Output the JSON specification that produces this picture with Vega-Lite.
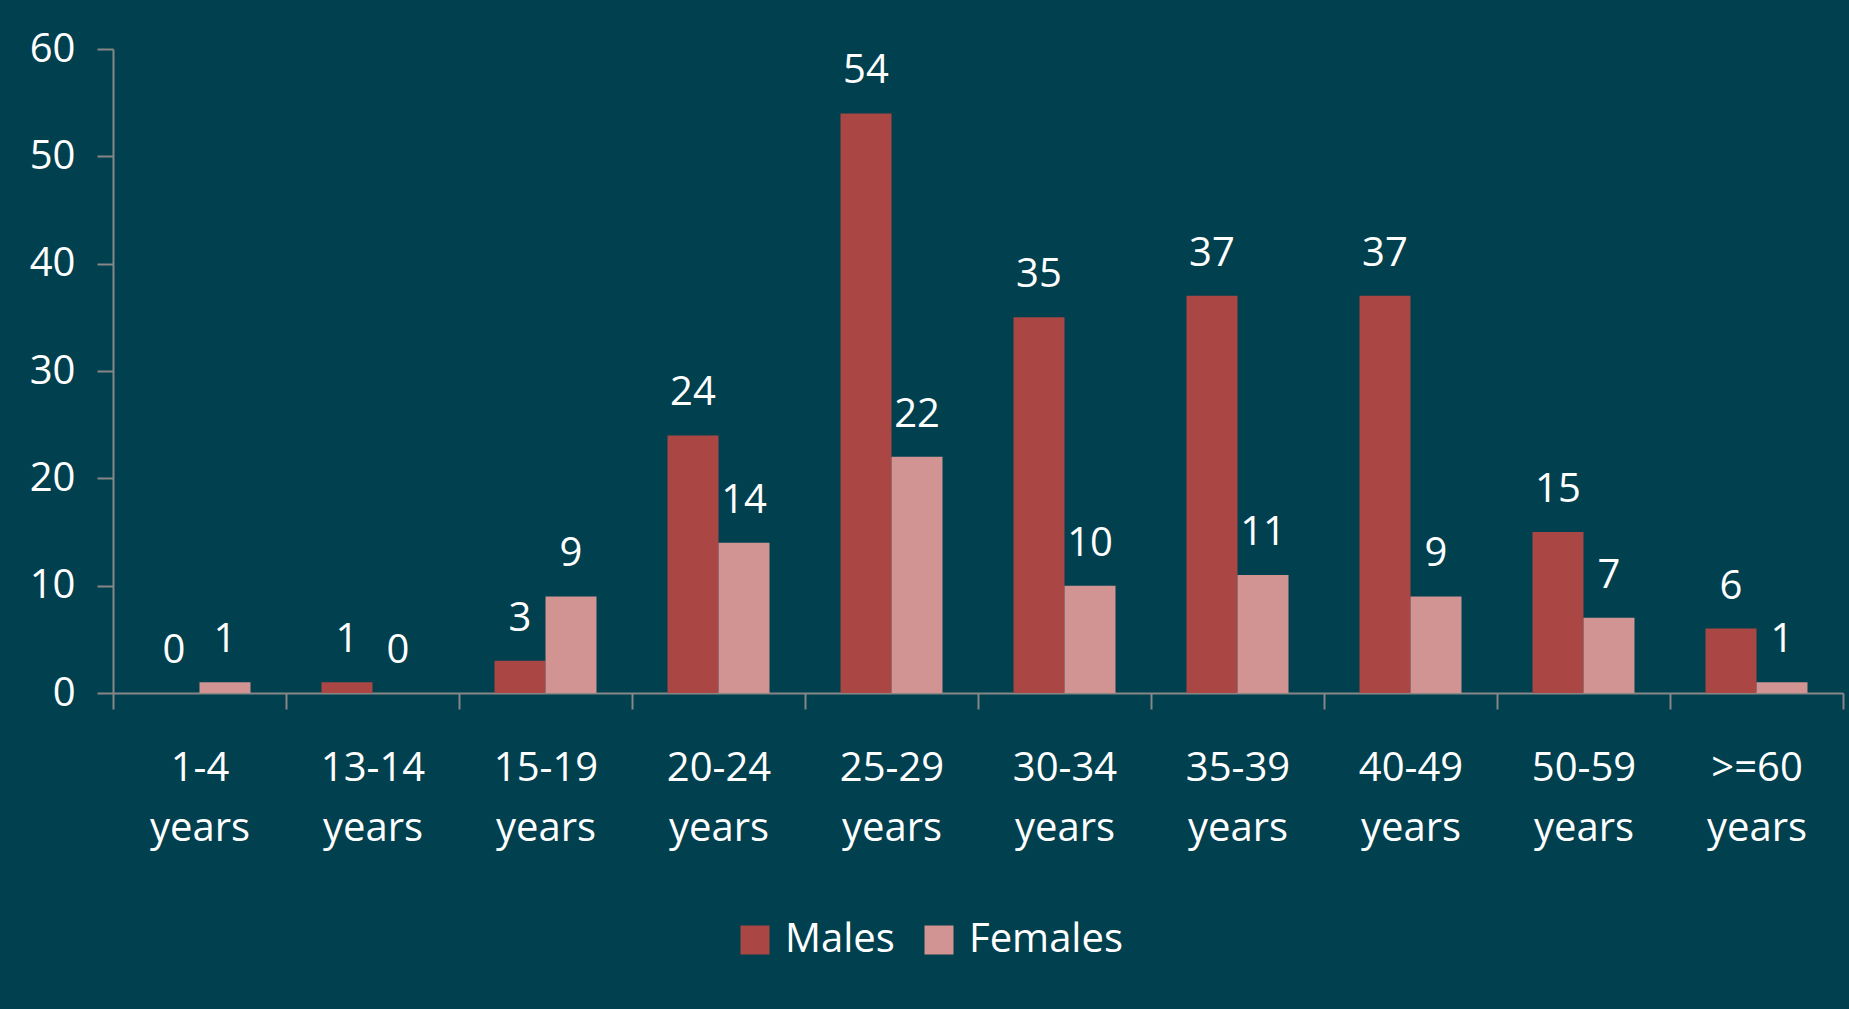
{
  "$schema": "https://vega.github.io/schema/vega-lite/v6.json",
  "width": 1730,
  "height": 644,
  "autosize": {"type": "none"},
  "padding": {"left": 113, "top": 49, "right": 6, "bottom": 316},
  "background": "#00404f",
  "config": {
    "view": {"stroke": null},
    "font": "Open Sans",
    "axis": {
      "domainColor": "#878787",
      "domainWidth": 2,
      "tickColor": "#878787",
      "tickWidth": 2,
      "tickSize": 16,
      "labelColor": "#ffffff",
      "labelFont": "Open Sans",
      "labelFontSize": 40,
      "grid": false,
      "title": null
    }
  },
  "data": {
    "values": [
      {"age": "1-4 years", "sex": "Males", "value": 0},
      {"age": "1-4 years", "sex": "Females", "value": 1},
      {"age": "13-14 years", "sex": "Males", "value": 1},
      {"age": "13-14 years", "sex": "Females", "value": 0},
      {"age": "15-19 years", "sex": "Males", "value": 3},
      {"age": "15-19 years", "sex": "Females", "value": 9},
      {"age": "20-24 years", "sex": "Males", "value": 24},
      {"age": "20-24 years", "sex": "Females", "value": 14},
      {"age": "25-29 years", "sex": "Males", "value": 54},
      {"age": "25-29 years", "sex": "Females", "value": 22},
      {"age": "30-34 years", "sex": "Males", "value": 35},
      {"age": "30-34 years", "sex": "Females", "value": 10},
      {"age": "35-39 years", "sex": "Males", "value": 37},
      {"age": "35-39 years", "sex": "Females", "value": 11},
      {"age": "40-49 years", "sex": "Males", "value": 37},
      {"age": "40-49 years", "sex": "Females", "value": 9},
      {"age": "50-59 years", "sex": "Males", "value": 15},
      {"age": "50-59 years", "sex": "Females", "value": 7},
      {"age": ">=60 years", "sex": "Males", "value": 6},
      {"age": ">=60 years", "sex": "Females", "value": 1}
    ]
  },
  "encoding": {
    "x": {
      "field": "age",
      "type": "nominal",
      "sort": null,
      "scale": {"paddingInner": 0, "paddingOuter": 0},
      "axis": {
        "labelAngle": 0,
        "tickBand": "extent",
        "labelExpr": "split(datum.label, ' ')",
        "labelLineHeight": 60,
        "labelPadding": 39,
        "labelBaseline": "top"
      }
    },
    "xOffset": {
      "field": "sex",
      "type": "nominal",
      "sort": ["Males", "Females"],
      "scale": {"paddingInner": 0, "paddingOuter": 0.696}
    },
    "y": {
      "field": "value",
      "type": "quantitative",
      "scale": {"domain": [0, 60], "nice": false},
      "axis": {"values": [0, 10, 20, 30, 40, 50, 60], "labelPadding": 22}
    }
  },
  "layer": [
    {
      "mark": {"type": "bar"},
      "encoding": {
        "color": {
          "field": "sex",
          "type": "nominal",
          "sort": ["Males", "Females"],
          "scale": {"domain": ["Males", "Females"], "range": ["#AA4643", "#D29492"]},
          "legend": {
            "title": null,
            "orient": "none",
            "legendX": 622,
            "legendY": 871,
            "direction": "horizontal",
            "symbolType": "square",
            "symbolSize": 841,
            "symbolStrokeWidth": 0,
            "symbolOpacity": 1,
            "labelFontSize": 40,
            "labelFont": "Open Sans",
            "labelColor": "#ffffff",
            "labelOffset": 10,
            "columnPadding": 24,
            "padding": 0
          }
        }
      }
    },
    {
      "mark": {"type": "text", "color": "#ffffff", "fontSize": 40, "font": "Open Sans", "baseline": "alphabetic", "dy": -30},
      "encoding": {
        "text": {"field": "value", "type": "quantitative"}
      }
    }
  ]
}
